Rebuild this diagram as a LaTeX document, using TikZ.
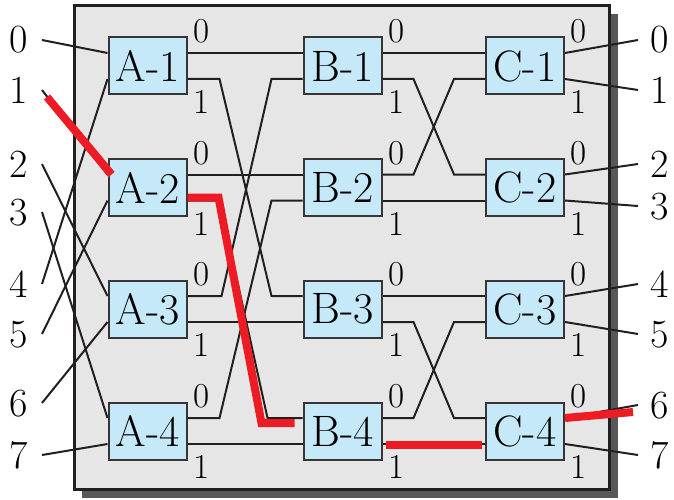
\documentclass[tikz,border=0pt]{standalone}
\usetikzlibrary{calc}
\definecolor{panelgray}{HTML}{E6E6E6}
\definecolor{shadowgray}{HTML}{58585A}
\definecolor{boxblue}{HTML}{C6E9FA}
\definecolor{ink}{HTML}{231F20}
\definecolor{pathred}{HTML}{ED1C24}

\begin{document}
\begin{tikzpicture}[x=1pt,y=-1pt,
  switchbox/.style={draw=ink!90, fill=boxblue, line width=2pt,
    minimum width=78pt, minimum height=57pt, inner sep=0pt,
    font=\fontsize{44}{44}\selectfont},
  wire/.style={draw=ink, line width=2pt},
  hot/.style={draw=pathred, line width=8pt},
  portlabel/.style={font=\fontsize{35}{35}\selectfont, inner sep=0pt, anchor=base},
  linelabel/.style={font=\fontsize{40}{40}\selectfont, inner sep=0pt, anchor=base},
]
\useasboundingbox (0,0) rectangle (674,500);

% panel with its drop shadow
\fill[shadowgray] (82,14) rectangle (618,498);
\draw[fill=panelgray, draw=ink, line width=3pt] (74.5,5.5) rectangle (609.5,489.5);

% three stages of 2x2 switches, with their port points and port numbers
\foreach \s/\x in {A/147.5,B/342.5,C/525}{
  \foreach \i/\y in {1/66,2/187.5,3/309,4/431}{
    \node[switchbox] (\s\i) at (\x,\y) {\s-\i};
    \coordinate (\s\i i0) at ($(\s\i.west)+(0,-13)$);
    \coordinate (\s\i i1) at ($(\s\i.west)+(0,13)$);
    \coordinate (\s\i o0) at ($(\s\i.east)+(0,-13)$);
    \coordinate (\s\i o1) at ($(\s\i.east)+(0,13)$);
    \node[portlabel] (\s\i p0) at ($(\s\i.north east)+(14,6)$) {0};
    \node[portlabel] (\s\i p1) at ($(\s\i.south east)+(14,18)$) {1};
  }
}

% input and output line numbers
\foreach \k/\b in {0/53,1/103,2/177,3/225,4/297,5/347,6/416,7/468}{
  \node[linelabel] (IN\k) at (19,\b) {\k};
}
\foreach \k/\b in {0/53,1/103,2/177,3/219,4/297,5/347,6/418,7/468}{
  \node[linelabel] (OUT\k) at (660,\b) {\k};
}

% perfect shuffle into stage A
\foreach \k/\t in {0/A1i0,1/A2i0,2/A3i0,3/A4i0,4/A1i1,5/A2i1,6/A3i1,7/A4i1}{
  \draw[wire] ($(IN\k.base)+(23,-13)$) -- (\t);
}

% stage A to stage B
\draw[wire] (A1o0) -- (B1i0);
\draw[wire] (A1o1) -- ++(32,0) -- ($(B3i0)+(-31,0)$) -- (B3i0);
\draw[wire] (A2o0) -- (B2i0);
\draw[wire] (A2o1) -- ++(32,0) -- ($(B4i0)+(-35,0)$) -- (B4i0);
\draw[wire] (A3o0) -- ++(34,0) -- ($(B1i1)+(-31,0)$) -- (B1i1);
\draw[wire] (A3o1) -- (B3i1);
\draw[wire] (A4o0) -- ++(32,0) -- ($(B2i1)+(-31,0)$) -- (B2i1);
\draw[wire] (A4o1) -- (B4i1);

% stage B to stage C
\draw[wire] (B1o0) -- (C1i0);
\draw[wire] (B1o1) -- ++(31,0) -- ($(C2i0)+(-31,0)$) -- (C2i0);
\draw[wire] (B2o0) -- ++(31,0) -- ($(C1i1)+(-31,0)$) -- (C1i1);
\draw[wire] (B2o1) -- (C2i1);
\draw[wire] (B3o0) -- (C3i0);
\draw[wire] (B3o1) -- ++(31,0) -- ($(C4i0)+(-31,0)$) -- (C4i0);
\draw[wire] (B4o0) -- ++(31,0) -- ($(C3i1)+(-31,0)$) -- (C3i1);
\draw[wire] (B4o1) -- (C4i1);

% stage C to the outputs
\foreach \k/\s in {0/C1o0,1/C1o1,2/C2o0,3/C2o1,4/C3o0,5/C3o1,6/C4o0,7/C4o1}{
  \draw[wire] (\s) -- ($(OUT\k.base)+(-22,-13)$);
}

% route from input 1 to output 6
\draw[hot] ($(IN1.base)+(28,-6)$) -- ($(A2i0)+(4,0)$);
\draw[hot] ($(A2o1)+(0,-3)$) -- ++(31,0) -- ($(B4i0)+(-41,5)$) -- ($(B4i0)+(-8,5)$);
\draw[hot] ($(B4o1)+(3,1)$) -- ($(C4i1)+(-3,1)$);
\draw[hot] (C4o0) -- ($(OUT6.base)+(-27,-6)$);
\end{tikzpicture}
\end{document}
